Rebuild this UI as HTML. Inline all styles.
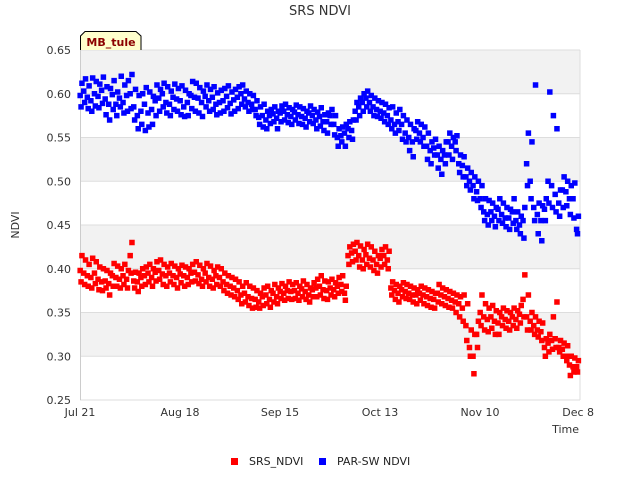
<!DOCTYPE html>
<html><head><meta charset="utf-8"><style>
body{margin:0;background:#fff;}
svg{display:block;font-family:"DejaVu Sans","Liberation Sans",sans-serif;}
</style></head><body>
<svg id="chart" width="640" height="480">
<text x="320" y="15" text-anchor="middle" font-size="13" fill="#333">SRS NDVI</text>
<text x="19" y="225" text-anchor="middle" font-size="11" fill="#333" transform="rotate(-90 19 225)">NDVI</text>
<text x="579" y="433" text-anchor="end" font-size="11" fill="#333">Time</text>
<g id="grid"></g>
<g id="yticks"></g>
<g id="xticks"></g>
<g id="marks"></g>
<g>
<path d="M80.5,50 L80.5,36 L85,31.5 L136,31.5 L141,36 L141,50" fill="#ffffcc" stroke="#000" stroke-width="1"/>
<text x="111" y="46" text-anchor="middle" font-size="11" font-weight="bold" fill="#8b0000">MB_tule</text>
</g>
<g>
<g><rect x="231" y="458" width="7" height="7" fill="#ff0000"/><text x="249" y="465" font-size="11" fill="#222">SRS_NDVI</text></g>
<g><rect x="319" y="458" width="7" height="7" fill="#0000ff"/><text x="337" y="465" font-size="11" fill="#222">PAR-SW NDVI</text></g>
</g>
</svg>
<script>
const yTicks=[0.25,0.30,0.35,0.40,0.45,0.50,0.55,0.60,0.65];
const xTickLabels=["Jul 21","Aug 18","Sep 15","Oct 13","Nov 10","Dec 8"];
const xTickDays=[0,28,56,84,112,140];
const par=[
[.612,.598,.585],[.617,.603,.590],[.609,.596,.583],[.618,.592,.580],[.614,.600,.586],[.611,.597,.584],[.619,.604,.589],[.608,.594,.576],[.606,.588,.570],[.615,.599,.582],
[.602,.588,.575],[.620,.595,.585],[.610,.590,.578],[.615,.598,.580],[.622,.600,.583],[.605,.585,.570],[.598,.575,.560],[.600,.580,.565],[.607,.588,.558],[.602,.578,.562],
[.597,.582,.565],[.610,.592,.575],[.605,.595,.580],[.612,.600,.585],[.608,.590,.578],[.603,.588,.575],[.611,.596,.582],[.606,.594,.580],[.609,.592,.576],[.604,.585,.574],
[.600,.590,.575],[.614,.598,.583],[.612,.596,.580],[.607,.595,.578],[.603,.590,.574],[.610,.597,.585],[.605,.592,.580],[.608,.596,.582],[.601,.588,.576],[.604,.590,.578],
[.606,.592,.580],[.609,.597,.584],[.602,.589,.577],[.605,.593,.580],[.608,.596,.583],[.610,.600,.588],[.603,.594,.585],[.600,.590,.580],[.598,.588,.582],[.592,.582,.575],
[.585,.573,.565],[.588,.575,.562],[.580,.570,.560],[.582,.575,.566],[.585,.577,.568],[.580,.572,.560],[.586,.578,.568],[.588,.580,.570],[.584,.576,.567],[.582,.574,.565],
[.587,.579,.570],[.585,.576,.566],[.583,.574,.565],[.580,.572,.562],[.586,.578,.568],[.582,.575,.566],[.579,.570,.560],[.584,.574,.563],[.576,.568,.558],[.578,.568,.555],
[.582,.575,.565],[.575,.565,.553],[.560,.550,.540],[.562,.552,.545],[.565,.555,.540],[.568,.560,.550],[.570,.558,.548],[.590,.580,.570],[.595,.585,.575],[.600,.590,.580],
[.603,.595,.585],[.598,.590,.580],[.595,.585,.575],[.592,.582,.574],[.590,.580,.572],[.588,.578,.568],[.584,.575,.565],[.585,.570,.560],[.578,.565,.555],[.582,.568,.558],
[.575,.565,.548],[.570,.555,.545],[.565,.550,.535],[.560,.545,.528],[.568,.558,.548],[.565,.555,.545],[.562,.550,.540],[.555,.540,.525],[.545,.535,.520],[.548,.538,.530],
[.540,.530,.515],[.535,.525,.508],[.545,.530,.520],[.555,.545,.530],[.550,.540,.525],[.552,.545,.535],[.530,.520,.510],[.528,.518,.505],[.515,.505,.495],[.510,.500,.490],
[.505,.495,.480],[.500,.488,.478],[.495,.480,.470],[.480,.465,.455],[.478,.462,.450],[.475,.465,.455],[.470,.460,.448],[.480,.468,.455],[.475,.462,.452],[.470,.458,.448],
[.468,.458,.445],[.480,.465,.452],[.465,.455,.445],[.460,.450,.440],[.470,.455,.435],[.555,.520,.495],[.545,.500,.480],[.610,.470,.455],[.475,.462,.440],[.472,.455,.432],
[.480,.468,.455],[.602,.500,.475],[.575,.495,.470],[.560,.485,.465],[.490,.475,.460],[.505,.490,.470],[.500,.488,.472],[.495,.480,.462],[.498,.480,.458],[.460,.445,.440]];
const srs=[
[.415,.398,.385],[.410,.395,.382],[.405,.392,.380],[.412,.390,.378],[.408,.395,.383],[.402,.388,.376],[.400,.385,.375],[.398,.386,.378],[.395,.383,.370],[.406,.392,.380],
[.403,.390,.380],[.400,.388,.378],[.405,.392,.382],[.398,.388,.378],[.430,.415,.395],[.396,.386,.378],[.395,.385,.374],[.400,.390,.380],[.402,.392,.382],[.405,.395,.385],
[.400,.390,.380],[.408,.396,.386],[.410,.398,.388],[.405,.394,.382],[.402,.392,.380],[.406,.395,.385],[.403,.392,.382],[.400,.390,.378],[.404,.394,.384],[.402,.392,.380],
[.400,.390,.382],[.405,.395,.385],[.408,.396,.386],[.404,.393,.383],[.400,.388,.380],[.406,.395,.385],[.403,.390,.380],[.398,.388,.378],[.402,.392,.382],[.400,.390,.380],
[.395,.385,.375],[.392,.382,.372],[.390,.380,.370],[.388,.378,.368],[.385,.375,.365],[.380,.370,.360],[.384,.372,.362],[.380,.368,.358],[.378,.366,.355],[.375,.365,.356],
[.372,.362,.355],[.378,.368,.358],[.380,.370,.360],[.375,.365,.356],[.382,.372,.362],[.378,.368,.360],[.383,.374,.366],[.380,.372,.364],[.385,.375,.366],[.382,.374,.365],
[.384,.375,.366],[.380,.372,.364],[.386,.377,.368],[.382,.374,.365],[.378,.370,.362],[.384,.376,.368],[.388,.378,.368],[.392,.380,.370],[.386,.376,.366],[.385,.375,.365],
[.388,.378,.370],[.384,.376,.368],[.390,.380,.372],[.392,.382,.374],[.380,.372,.364],[.425,.415,.405],[.428,.418,.408],[.430,.420,.410],[.426,.415,.402],[.422,.410,.400],
[.428,.416,.405],[.425,.412,.402],[.420,.410,.398],[.415,.405,.395],[.422,.412,.402],[.425,.415,.405],[.420,.410,.400],[.385,.378,.370],[.382,.375,.365],[.380,.372,.362],
[.384,.376,.368],[.382,.374,.366],[.380,.372,.365],[.378,.370,.362],[.376,.370,.360],[.380,.372,.364],[.378,.370,.360],[.376,.368,.358],[.374,.366,.356],[.372,.365,.355],
[.382,.372,.362],[.378,.370,.360],[.376,.368,.358],[.374,.366,.356],[.372,.364,.355],[.370,.362,.350],[.368,.360,.345],[.370,.355,.340],[.360,.335,.318],[.330,.310,.300],
[.325,.300,.280],[.340,.325,.310],[.370,.350,.335],[.360,.345,.330],[.355,.342,.328],[.358,.345,.332],[.352,.340,.325],[.350,.338,.325],[.355,.345,.335],[.352,.342,.332],
[.350,.340,.330],[.355,.345,.335],[.352,.342,.332],[.358,.348,.338],[.393,.365,.345],[.370,.345,.330],[.350,.340,.330],[.345,.335,.325],[.340,.330,.322],[.338,.328,.318],
[.320,.310,.300],[.325,.315,.305],[.345,.318,.308],[.362,.320,.310],[.318,.310,.305],[.315,.308,.300],[.312,.300,.295],[.300,.290,.278],[.298,.288,.282],[.295,.288,.282]];

const NS="http://www.w3.org/2000/svg";
const X0=80,X1=580,Y0=400,Y1=50,D0=0,D1=140,V0=0.25,V1=0.65;
const DAY_OFFSETS=[0.55,0.05,0.3];
function xs(d){return X0+(d-D0)/(D1-D0)*(X1-X0);}
function ys(v){return Y0-(v-V0)/(V1-V0)*(Y0-Y1);}
function mk(tag,attrs,parent){const e=document.createElementNS(NS,tag);for(const k in attrs)e.setAttribute(k,attrs[k]);parent.appendChild(e);return e;}
const grid=document.getElementById('grid');
for(let i=0;i<yTicks.length-1;i++){
  if(i%2===1){
    const r=mk('rect',{x:X0,y:ys(yTicks[i+1]),width:X1-X0,height:ys(yTicks[i])-ys(yTicks[i+1]),fill:'#f2f2f2'},grid);
    
    
  }
}
const yt=document.getElementById('yticks');
yTicks.forEach(v=>{
  const l=mk('line',{x1:X0,x2:X1,y1:ys(v),y2:ys(v),stroke:'#dddddd','stroke-width':1},grid);
  
  
  const t=mk('text',{x:X0-9,y:ys(v)+4,'text-anchor':'end','font-size':11,fill:'#333'},yt);
  t.textContent=v.toFixed(2);
  
  
});
const ax=mk('line',{x1:X0+0.5,x2:X0+0.5,y1:Y1,y2:Y0,stroke:'#cccccc'},grid);


const ax2=mk('line',{x1:X1,x2:X1,y1:Y1,y2:Y0,stroke:'#dddddd'},grid);


const xt=document.getElementById('xticks');
xTickLabels.forEach((s,i)=>{
  const x=xs(xTickDays[i]);
  const t=mk('text',{x:i===xTickLabels.length-1?x+14:x,y:416,'text-anchor':i===xTickLabels.length-1?'end':'middle','font-size':11,fill:'#333'},xt);
  t.textContent=s;
  
  
});
const marks=document.getElementById('marks');
function series(data,color,name){
  const g=mk('g',{},marks);
  
  
  data.forEach((vals,d)=>{
    vals.forEach((v,j)=>{
      const r=mk('rect',{x:xs(d+DAY_OFFSETS[j%3])-2.75,y:ys(v)-2.75,width:5.5,height:5.5,fill:color},g);
      
      
    });
  });
}
series(srs,'#ff0000','srs-ndvi-series');
series(par,'#0000ff','par-sw-ndvi-series');
</script>
</body></html>
